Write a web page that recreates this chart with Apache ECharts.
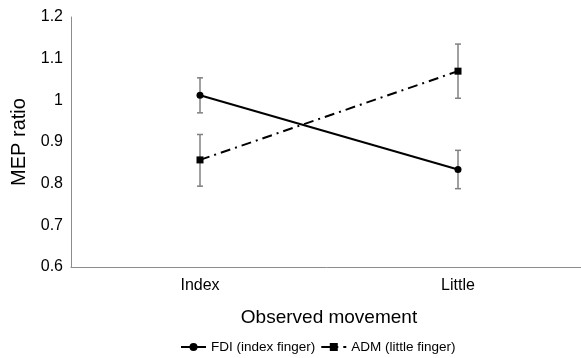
<!DOCTYPE html>
<html><head><meta charset="utf-8">
<script src="https://cdn.jsdelivr.net/npm/echarts@6/dist/echarts.min.js"></script>
<style>html,body{margin:0;padding:0;background:#fff}#c{width:581px;height:358px}</style>
</head><body><div id="c"></div>
<script>
const categories = ['Index', 'Little'];
const fdiMean = [1.012, 0.834];
const fdiLow = [0.970, 0.788];
const fdiHigh = [1.054, 0.880];
const admMean = [0.857, 1.070];
const admLow = [0.794, 1.005];
const admHigh = [0.918, 1.135];
const yTicks = [0.6, 0.7, 0.8, 0.9, 1, 1.1, 1.2];

const FONT = 'Liberation Sans, Arial, sans-serif';
const chart = echarts.init(document.getElementById('c'));
function errSeries(low, high) {
  return {
    type: 'custom', silent: true, z: 1,
    data: categories.map((c, i) => [i, low[i], high[i]]),
    renderItem: function (params, api) {
      const x = api.value(0);
      const p1 = api.coord([x, api.value(1)]);
      const p2 = api.coord([x, api.value(2)]);
      const st = { stroke: '#808080', lineWidth: 1.5 };
      const w = 3;
      return { type: 'group', children: [
        { type: 'line', shape: { x1: p1[0], y1: p1[1], x2: p2[0], y2: p2[1] }, style: st },
        { type: 'line', shape: { x1: p1[0] - w, y1: p1[1], x2: p1[0] + w, y2: p1[1] }, style: st },
        { type: 'line', shape: { x1: p2[0] - w, y1: p2[1], x2: p2[0] + w, y2: p2[1] }, style: st }
      ]};
    }
  };
}
chart.setOption({
  animation: false,
  textStyle: { fontFamily: FONT },
  grid: { left: 71, width: 516, top: 17, height: 250, outerBoundsMode: 'none', containLabel: false },
  legend: {
    top: 335, left: 175, itemWidth: 25, itemHeight: 10, itemGap: 5,
    textStyle: { fontSize: 13.5, color: '#000', fontFamily: FONT },
    data: ['FDI (index finger)', 'ADM (little finger)']
  },
  xAxis: {
    type: 'category', data: categories,
    name: 'Observed movement', nameLocation: 'middle', nameGap: 41,
    nameTextStyle: { fontSize: 19, color: '#000', fontFamily: FONT },
    axisLine: { lineStyle: { color: '#8c8c8c', width: 1 } },
    axisTick: { show: false },
    axisLabel: { fontSize: 16, color: '#000', margin: 11, fontFamily: FONT }
  },
  yAxis: {
    type: 'value', min: 0.6, max: 1.2, interval: 0.1,
    name: 'MEP ratio', nameLocation: 'middle', nameGap: 29,
    nameTextStyle: { fontSize: 20, color: '#000', fontFamily: FONT },
    axisLine: { show: true, lineStyle: { color: '#8c8c8c', width: 1 } },
    axisTick: { show: false },
    splitLine: { show: false },
    axisLabel: { fontSize: 16, color: '#000', margin: 8, fontFamily: FONT,
      formatter: v => { const t = yTicks.find(k => Math.abs(k - v) < 1e-6); return t === undefined ? '' : String(t); } }
  },
  series: [
    errSeries(fdiLow, fdiHigh),
    errSeries(admLow, admHigh),
    { name: 'FDI (index finger)', type: 'line', data: fdiMean, z: 3,
      symbol: 'circle', symbolSize: 7,
      itemStyle: { color: '#000' }, lineStyle: { color: '#000', width: 2 } },
    { name: 'ADM (little finger)', type: 'line', data: admMean, z: 3,
      symbol: 'rect', symbolSize: 7,
      itemStyle: { color: '#000' }, lineStyle: { color: '#000', width: 2, type: [10, 5, 2, 5] } }
  ]
});
</script></body></html>
